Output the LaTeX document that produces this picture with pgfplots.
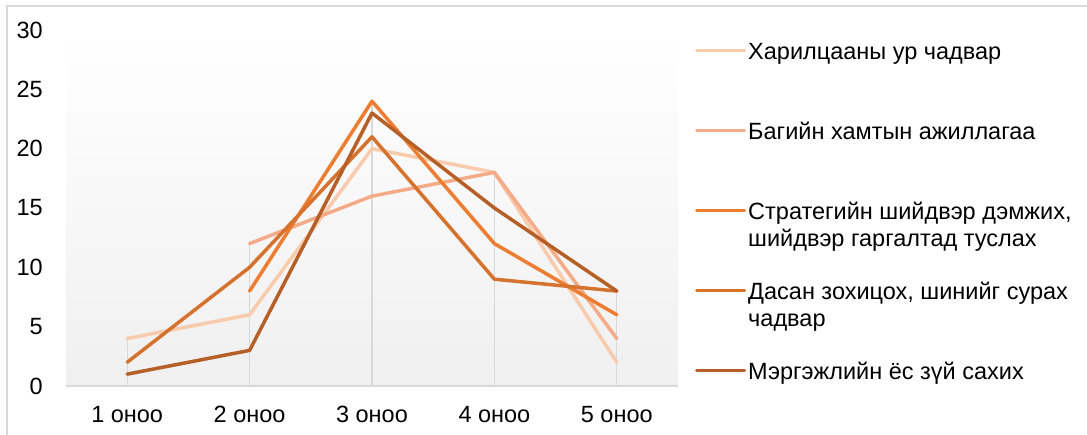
\documentclass[border=0pt]{standalone}
\usepackage{fontspec}
\setmainfont{Liberation Sans}
\usepackage{pgfplots}
\pgfplotsset{compat=1.18}

\definecolor{sA}{HTML}{F8CBAD}
\definecolor{sB}{HTML}{F4AC88}
\definecolor{sC}{HTML}{ED7D31}
\definecolor{sD}{HTML}{D5722E}
\definecolor{sE}{HTML}{B65F26}
\definecolor{gridc}{HTML}{D9D9D9}

% legend entry: first line sits on the legend line, second line hangs below
\newcommand{\lent}[1]{\raisebox{0pt}[16.8bp][0bp]{\parbox[t]{340bp}{\raggedright #1}}}

\begin{document}
\begin{tikzpicture}
\path[use as bounding box] (0,0) rectangle (1087bp,435bp);
\draw[gridc, line width=1.2bp] (7bp,0) -- (7bp,429bp) -- (1087bp,429bp);

\begin{axis}[
    at={(66bp,49bp)}, anchor=south west,
    scale only axis,
    width=612bp, height=356bp,
    xmin=0.5, xmax=5.5,
    ymin=0, ymax=30,
    xtick={1,2,3,4,5},
    xticklabels={1 оноо, 2 оноо, 3 оноо, 4 оноо, 5 оноо},
    ytick={0,5,10,15,20,25,30},
    /pgf/number format/assume math mode=true,
    major tick length=0pt,
    axis x line*=bottom,
    axis y line*=left,
    x axis line style={draw=gridc, line width=1.5bp, -},
    y axis line style={draw=none},
    axis background/.style={shade, top color=white, bottom color=black!6},
    every tick label/.append style={font=\fontsize{23.5bp}{27bp}\selectfont, inner sep=0pt},
    xticklabel style={anchor=base, yshift=-37bp},
    yticklabel style={anchor=east, xshift=-23bp},
    legend cell align=left,
    legend image code/.code={\draw[#1, line width=3bp, line cap=round] (0bp,0bp) -- (48bp,0bp);},
    legend style={
        at={(1.0278,0.9657)}, anchor=north west,
        draw=none, fill=none, inner sep=0pt,
        row sep=63.2bp, column sep=2bp,
        nodes={inner sep=0pt, text depth=0pt},
        font=\fontsize{23.5bp}{27bp}\selectfont,
    },
    every axis plot/.append style={line width=3.5bp, line join=round, line cap=round},
]

% drop lines from the highest point of each category
\addplot[ycomb, draw=gridc, line width=1.3bp, line cap=butt, forget plot]
    coordinates {(1,4)(2,12)(3,24)(4,18)(5,8)};

\addplot[sA] coordinates {(1,4)(2,6)(3,20)(4,18)(5,2)};
\addlegendentry{\lent{Харилцааны ур чадвар}}

\addplot[sB] coordinates {(2,12)(3,16)(4,18)(5,4)};
\addlegendentry{\lent{Багийн хамтын ажиллагаа}}

\addplot[sC] coordinates {(2,8)(3,24)(4,12)(5,6)};
\addlegendentry{\lent{Стратегийн шийдвэр дэмжих,\\шийдвэр гаргалтад туслах}}

\addplot[sD] coordinates {(1,2)(2,10)(3,21)(4,9)(5,8)};
\addlegendentry{\lent{Дасан зохицох, шинийг сурах\\чадвар}}

\addplot[sE] coordinates {(1,1)(2,3)(3,23)(4,15)(5,8)};
\addlegendentry{\lent{Мэргэжлийн ёс зүй сахих}}

\end{axis}
\end{tikzpicture}
\end{document}
